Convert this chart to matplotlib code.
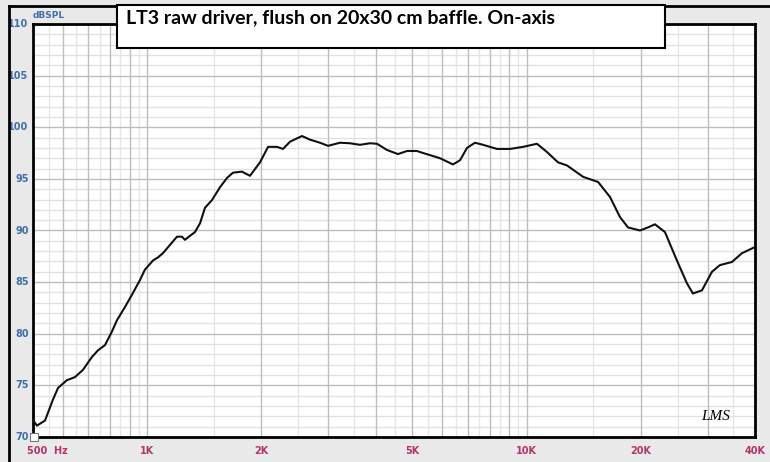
import numpy as np
import matplotlib.pyplot as plt
from matplotlib.patches import Rectangle
from matplotlib.lines import Line2D

# frequency response (Hz, dB SPL)
freq = [500, 512, 538, 564, 582, 614, 645, 677, 715, 742, 774, 807, 832, 874,
        917, 957, 986, 1036, 1068, 1100, 1148, 1198, 1235, 1257, 1336, 1378,
        1420, 1482, 1556, 1624, 1683, 1777, 1866, 1983, 2082, 2199, 2280, 2379,
        2558, 2686, 2854, 2996, 3222, 3423, 3638, 3866, 4034, 4286, 4582, 4839,
        5142, 5236, 5563, 5912, 6397, 6676, 6966, 7311, 7676, 8356, 9043, 9785,
        10652, 11317, 12101, 12781, 14087, 15432, 16590, 17628, 18506, 19897,
        20890, 21795, 23157, 24899, 26457, 27438, 28987, 30802, 32330, 34774,
        36945, 40000]
spl = [71.65, 71.1, 71.6, 73.6, 74.75, 75.5, 75.8, 76.5, 77.75, 78.4, 78.9,
       80.2, 81.3, 82.6, 83.95, 85.2, 86.2, 87.1, 87.4, 87.8, 88.6, 89.4, 89.4,
       89.1, 89.85, 90.7, 92.2, 92.95, 94.2, 95.1, 95.6, 95.7, 95.3, 96.6, 98.1,
       98.1, 97.9, 98.6, 99.15, 98.8, 98.5, 98.2, 98.5, 98.45, 98.3, 98.45,
       98.4, 97.8, 97.4, 97.7, 97.7, 97.6, 97.3, 97.0, 96.4, 96.8, 98.0, 98.5,
       98.3, 97.9, 97.9, 98.1, 98.4, 97.6, 96.6, 96.3, 95.2, 94.7, 93.25, 91.3,
       90.3, 90.0, 90.3, 90.6, 89.85, 87.1, 84.9, 83.9, 84.2, 86.0, 86.65,
       86.95, 87.8, 88.4]

x_ticks = [500, 1000, 2000, 5000, 10000, 20000, 40000]
x_labels = ['500  Hz', '1K', '2K', '5K', '10K', '20K', '40K']
y_ticks = [70, 75, 80, 85, 90, 95, 100, 105, 110]

title = 'LT3 raw driver, flush on 20x30 cm baffle. On-axis'

major_v = list(range(500, 1001, 100)) + list(range(2000, 10001, 1000)) + [20000, 30000, 40000]
minor_v = list(range(550, 1000, 100)) + [1500] + list(range(2500, 10000, 1000)) + [15000, 25000, 35000]

fig = plt.figure(figsize=(7.7, 4.62), dpi=100)
fig.patch.set_facecolor('#e9e9e9')

W, H = 770.0, 462.0
ax = fig.add_axes([33 / W, 1 - 437 / H, 722 / W, 413 / H])
ax.set_xscale('log')
ax.set_xlim(500, 40000)
ax.set_ylim(70, 110)
ax.set_facecolor('white')

# grid
for f in minor_v:
    ax.axvline(f, color='#e6e6e6', lw=1.0, zorder=1)
for f in major_v:
    ax.axvline(f, color='#bdbdbd', lw=1.0, zorder=2)
for d in range(71, 110):
    if d % 5:
        ax.axhline(d, color='#e2e2e2', lw=1.0, zorder=1)
for d in y_ticks:
    ax.axhline(d, color='#bdbdbd', lw=1.0, zorder=2)

ax.plot(freq, spl, color='#111111', lw=1.5, zorder=5,
        solid_capstyle='round', solid_joinstyle='round')

for s in ax.spines.values():
    s.set_linewidth(2.0)
    s.set_color('black')
ax.set_xticks([])
ax.set_yticks([])
ax.minorticks_off()

blue = '#3f6fa8'
red = '#b5336b'
for v in y_ticks:
    ax.text(-0.006, (v - 70) / 40.0, str(v), transform=ax.transAxes,
            ha='right', va='center', color=blue, fontsize=7, fontweight='bold')
for f, lab in zip(x_ticks, x_labels):
    xf = np.log10(f / 500) / np.log10(80)
    if f == 500:
        ax.text(xf - 0.008, -0.022, lab, transform=ax.transAxes, ha='left', va='top',
                color=red, fontsize=7, fontweight='bold')
    else:
        ax.text(xf, -0.022, lab, transform=ax.transAxes, ha='center', va='top',
                color=red, fontsize=7, fontweight='bold')

fig.text(33 / W, 1 - 15 / H, 'dBSPL', ha='left', va='center', color=blue,
         fontsize=6.5, fontweight='bold')

# small icon at the origin corner
fig.patches.append(Rectangle((30 / W, 1 - 441 / H), 8 / W, 8 / H, transform=fig.transFigure,
                             facecolor='white', edgecolor='#777777', lw=0.8, zorder=10))

# outer frame
fig.lines.append(Line2D([9 / W, 9 / W], [0, 1 - 6 / H], transform=fig.transFigure,
                        color='black', lw=2.0))
fig.lines.append(Line2D([9 / W, 1], [1 - 6 / H, 1 - 6 / H], transform=fig.transFigure,
                        color='black', lw=2.0))

# title box
fig.patches.append(Rectangle((117 / W, 1 - 48 / H), 548 / W, 43 / H, transform=fig.transFigure,
                             facecolor='white', edgecolor='black', lw=1.5, zorder=10))
fig.text(126 / W, 1 - 18 / H, title, ha='left', va='center', fontsize=14,
         fontweight='bold', family=['Lato', 'DejaVu Sans'], zorder=11)

# handwritten logo
ax.text(0.945, 0.05, 'LMS', transform=ax.transAxes, ha='center', va='center',
        fontsize=11, style='italic', family=['Liberation Serif', 'DejaVu Serif'], zorder=6)

fig.savefig('out.png', dpi=100, facecolor=fig.get_facecolor())
